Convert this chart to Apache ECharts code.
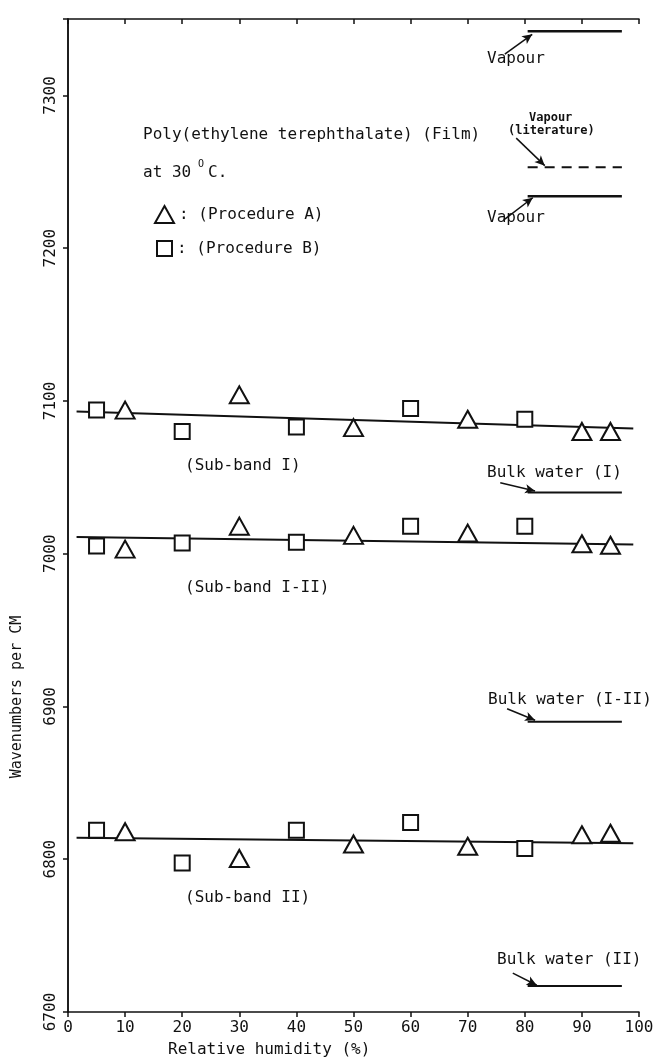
<!DOCTYPE html>
<html>
<head>
<meta charset="utf-8">
<script src="https://cdn.jsdelivr.net/npm/echarts@6/dist/echarts.min.js"></script>
<style>
  html, body { margin: 0; padding: 0; background: #fff; }
  #chart { width: 653px; height: 1061px; }
</style>
</head>
<body>
<div id="chart"></div>
<script>
// relative humidity (%) of the measurements
const humidityA = [10, 30, 50, 70, 90, 95]
const humidityB = [5, 20, 40, 60, 80]

// wavenumbers (cm-1), procedure A = triangles, procedure B = squares
const bandIA = [7094, 7104, 7082.5, 7088, 7080, 7080]
const bandIB = [7094, 7080, 7083, 7095, 7088]
const bandI_IIA = [7003, 7018, 7012, 7013.5, 7006.5, 7005.5]
const bandI_IIB = [7005, 7007, 7007.5, 7018, 7018]
const bandIIA = [6818, 6800.5, 6810, 6808.5, 6816, 6817]
const bandIIB = [6819, 6797.5, 6819, 6824, 6807]

// fitted lines (ends)
const fitX = [1.5, 99]
const fitI = [7093, 7082]
const fitI_II = [7011, 7006]
const fitII = [6814, 6810.5]

// reference levels drawn at the right
const refX = [80.5, 97]
const vapourTop = 7342
const vapourLit = 7253
const vapourLow = 7234
const bulkI = 7040
const bulkI_II = 6890
const bulkII = 6717

// annotation arrows [from, to] in data units
const arrows = [
  [[76.5, 7327], [81.3, 7340]],
  [[78.5, 7272], [83.5, 7254]],
  [[76.5, 7219], [81.4, 7233]],
  [[75.7, 7046.5], [81.8, 7041]],
  [[76.9, 6898.5], [81.8, 6891]],
  [[77.9, 6725.5], [82.1, 6717.5]]
]

const xTicks = { min: 0, max: 100, interval: 10 }
const yTicks = { min: 6700, max: 7350, interval: 100 }

const FONT = 'DejaVu Sans Mono'
const INK = '#111'

const zip = (xs, ys) => xs.map((x, i) => [x, ys[i]])

const chart = echarts.init(document.getElementById('chart'))

function scatter (name, symbol, size, xs, ys) {
  return {
    type: 'scatter',
    name: name,
    symbol: symbol,
    symbolSize: size,
    data: zip(xs, ys),
    z: 5,
    itemStyle: { color: '#fff', borderColor: INK, borderWidth: 2, opacity: 1 }
  }
}

function straight (xs, ys, width, type) {
  return {
    type: 'line',
    data: zip(xs, ys),
    symbol: 'none',
    z: 3,
    silent: true,
    lineStyle: { color: INK, width: width, type: type || 'solid' }
  }
}

function level (v, width, type) {
  return straight(refX, [v, v], width, type)
}

function note (text, x, y, size, weight) {
  return {
    type: 'text',
    x: x,
    y: y,
    style: {
      text: text,
      fill: INK,
      font: (weight || 'normal') + ' ' + (size || 16) + 'px "' + FONT + '"',
      verticalAlign: 'middle',
      align: 'left'
    }
  }
}

function legendFor (name, icon, left, top, w, h) {
  return {
    orient: 'vertical',
    left: left,
    top: top,
    itemWidth: w,
    itemHeight: h,
    formatter: ': ({name})',
    textStyle: { fontFamily: FONT, fontSize: 16, color: INK },
    data: [{ name: name, icon: icon }]
  }
}

const triSize = [19, 17]
const sqSize = 15

const option = {
  animation: false,
  backgroundColor: '#fff',
  grid: { left: 68, right: 14, top: 19, bottom: 49, outerBoundsMode: 'none' },
  legend: [
    legendFor('Procedure A', 'triangle', 149, 200, 19, 17),
    legendFor('Procedure B', 'rect', 151, 235, 15, 15)
  ],
  xAxis: [
    {
      type: 'value',
      position: 'bottom',
      ...xTicks,
      axisLine: { lineStyle: { color: INK, width: 1.5 } },
      axisTick: { length: 5, lineStyle: { color: INK, width: 1.5 } },
      axisLabel: { fontFamily: FONT, fontSize: 16, color: INK, margin: 8 },
      splitLine: { show: false }
    },
    {
      type: 'value',
      position: 'top',
      ...xTicks,
      axisLine: { lineStyle: { color: INK, width: 1.5 } },
      axisTick: { inside: true, length: 5, lineStyle: { color: INK, width: 1.5 } },
      axisLabel: { show: false },
      splitLine: { show: false }
    }
  ],
  yAxis: [
    {
      type: 'value',
      position: 'left',
      ...yTicks,
      axisLine: { lineStyle: { color: INK, width: 1.5 } },
      axisTick: { length: 5, lineStyle: { color: INK, width: 1.5 } },
      axisLabel: {
        fontFamily: FONT,
        fontSize: 16,
        color: INK,
        rotate: 90,
        margin: 9,
        showMaxLabel: false,
        formatter: v => String(v)
      },
      splitLine: { show: false }
    },
    {
      type: 'value',
      position: 'right',
      ...yTicks,
      axisLine: { lineStyle: { color: INK, width: 1.5 } },
      axisTick: { inside: true, length: 5, lineStyle: { color: INK, width: 1.5 } },
      axisLabel: { show: false },
      splitLine: { show: false }
    }
  ],
  series: [
    straight(fitX, fitI, 2),
    straight(fitX, fitI_II, 2),
    straight(fitX, fitII, 2),
    level(vapourTop, 2.5),
    level(vapourLit, 2, [10, 7]),
    level(vapourLow, 2.5),
    level(bulkI, 2),
    level(bulkI_II, 2),
    level(bulkII, 2),
    {
      type: 'line',
      data: [],
      silent: true,
      markLine: {
        silent: true,
        symbol: ['none', 'arrow'],
        symbolSize: [7, 10],
        label: { show: false },
        lineStyle: { color: INK, width: 1.5, type: 'solid' },
        data: arrows.map(a => [{ coord: a[0] }, { coord: a[1] }])
      }
    },
    scatter('Procedure A', 'triangle', triSize, humidityA, bandIA),
    scatter('Procedure A', 'triangle', triSize, humidityA, bandI_IIA),
    scatter('Procedure A', 'triangle', triSize, humidityA, bandIIA),
    scatter('Procedure B', 'rect', sqSize, humidityB, bandIB),
    scatter('Procedure B', 'rect', sqSize, humidityB, bandI_IIB),
    scatter('Procedure B', 'rect', sqSize, humidityB, bandIIB)
  ],
  graphic: [
    note('Poly(ethylene terephthalate) (Film)', 143, 135),
    note('at 30', 143, 173),
    note('O', 198, 164, 10),
    note('C.', 208, 173),
    note('Vapour', 487, 59),
    note('Vapour', 529, 118, 12, 'bold'),
    note('(literature)', 508, 131, 12, 'bold'),
    note('Vapour', 487, 218),
    note('(Sub-band I)', 185, 466),
    note('(Sub-band I-II)', 185, 588),
    note('(Sub-band II)', 185, 898),
    note('Bulk water (I)', 487, 473),
    note('Bulk water (I-II)', 488, 700),
    note('Bulk water (II)', 497, 960),
    note('Relative humidity (%)', 168, 1050),
    {
      type: 'text',
      x: 17,
      y: 697,
      rotation: Math.PI / 2,
      style: {
        text: 'Wavenumbers per CM',
        fill: INK,
        font: '15px "' + FONT + '"',
        align: 'center',
        verticalAlign: 'middle'
      }
    }
  ]
}

chart.setOption(option)
</script>
</body>
</html>
